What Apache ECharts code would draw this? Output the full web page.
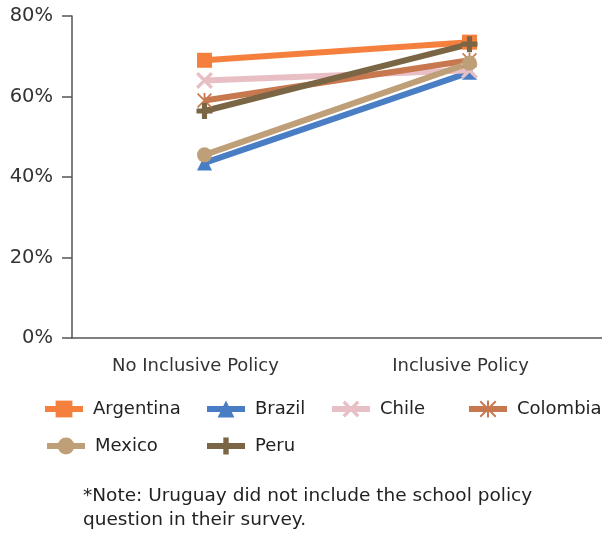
<!DOCTYPE html>
<html lang="en">
<head>
    <meta charset="UTF-8">
    <title>policyChart</title>
    <script src="https://cdn.jsdelivr.net/npm/echarts@6/dist/echarts.min.js"></script>
    <style>
        html, body { margin: 0; padding: 0; background: #fff; }
    </style>
</head>
<body>
<div id="main" style="width: 602px; height: 535px;"></div>

<script type="text/javascript">
    // data
    const categories = ['No Inclusive Policy', 'Inclusive Policy'];
    const countries = ['Argentina', 'Brazil', 'Chile', 'Colombia', 'Mexico', 'Peru'];
    const argentina = [69, 73.5];
    const brazil = [43.5, 66];
    const chile = [64, 66.5];
    const colombia = [59, 69];
    const mexico = [45.5, 68.3];
    const peru = [56.4, 73];
    const yTicks = [0, 20, 40, 60, 80];

    const colors = ['#f5803e', '#4a7ec4', '#e8bfc4', '#c8784f', '#bf9f78', '#7a6545'];
    const symbols = [
        'rect',
        'triangle',
        'path://M14,0L50,36L86,0L100,14L64,50L100,86L86,100L50,64L14,100L0,86L36,50L0,14Z',
        'path://M44,0H56V100H44Z M0,8L8,0L100,92L92,100Z M92,0L100,8L8,100L0,92Z',
        'circle',
        'path://M34,0H66V34H100V66H66V100H34V66H0V34H34Z'
    ];
    const symbolSizes = [15, 15, 17, 15, 15, 16];
    const values = [argentina, brazil, chile, colombia, mexico, peru];

    const legendPos = [[42, 400], [204, 400], [329, 400], [466, 400], [44, 437], [204, 437]];

    const font = 'DejaVu Sans';
    let myChart = echarts.init(document.getElementById('main'));

    const series = countries.map(function (name, i) {
        return {
            name: name,
            type: 'line',
            data: values[i],
            symbol: symbols[i],
            symbolSize: symbolSizes[i],
            symbolKeepAspect: true,
            color: colors[i],
            lineStyle: { width: 6, color: colors[i] },
            itemStyle: { color: colors[i] },
            emphasis: { disabled: true },
            animation: false
        };
    });

    const legends = countries.map(function (name, i) {
        return {
            data: [name],
            left: legendPos[i][0],
            top: legendPos[i][1],
            padding: 0,
            itemWidth: 38,
            itemHeight: 21,
            selectedMode: false,
            lineStyle: { width: 6 },
            textStyle: { fontFamily: font, fontSize: 18, color: '#222', padding: [0, 0, 0, 5] }
        };
    });

    const option = {
        backgroundColor: '#fff',
        title: {
            text: '*Note: Uruguay did not include the school policy\nquestion in their survey.',
            left: 78,
            top: 479,
            textStyle: { fontFamily: font, fontSize: 18.5, fontWeight: 'normal', color: '#222', lineHeight: 24 }
        },
        legend: legends,
        grid: { left: 72, right: 0, top: 16, bottom: 197 },
        xAxis: {
            type: 'category',
            data: categories,
            boundaryGap: true,
            axisLine: { lineStyle: { color: '#555', width: 1.5 } },
            axisTick: { length: 12, lineStyle: { color: '#555', width: 1.5 } },
            axisLabel: { fontFamily: font, fontSize: 18, color: '#333', margin: 19, padding: [0, 18, 0, 0] }
        },
        yAxis: {
            type: 'value',
            min: yTicks[0],
            max: yTicks[yTicks.length - 1],
            interval: 20,
            axisLine: { show: true, lineStyle: { color: '#555', width: 1.5 } },
            axisTick: { show: true, length: 10, lineStyle: { color: '#555', width: 1.5 } },
            splitLine: { show: false },
            axisLabel: { fontFamily: font, fontSize: 19.5, color: '#333', margin: 19, formatter: '{value}%' }
        },
        series: series
    };
    myChart.setOption(option);
</script>
</body>
</html>
